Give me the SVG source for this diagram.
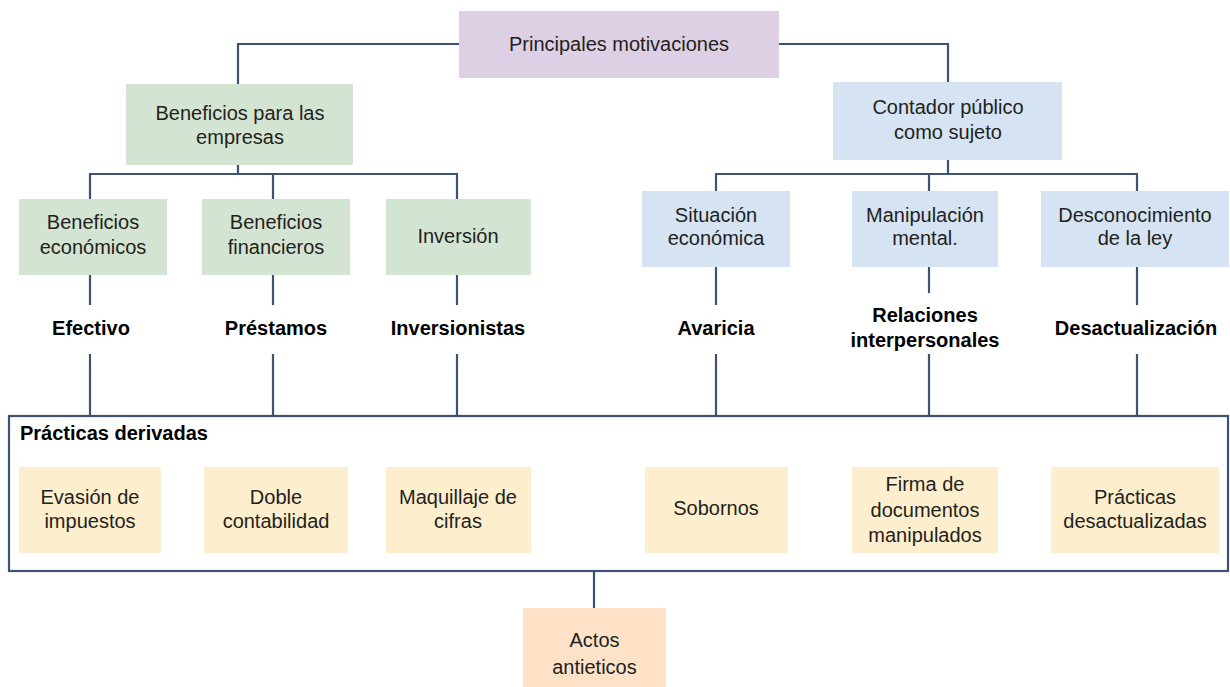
<svg xmlns="http://www.w3.org/2000/svg" width="1230" height="687" viewBox="0 0 1230 687">
<style>
.t{font-family:"Liberation Sans",Arial,sans-serif;font-size:20px;fill:#231f20;text-anchor:middle}
.b{font-family:"Liberation Sans",Arial,sans-serif;font-size:20px;font-weight:bold;fill:#000;text-anchor:middle}
.ln{fill:none;stroke:#3e5273;stroke-width:2.2}
.top{fill:#ddd0e4}.grn{fill:#d4e4d2}.blu{fill:#d5e3f3}.crm{fill:#fdeecd}.pch{fill:#fde2c8}
</style>
<rect width="1230" height="687" fill="#fff"/>
<g id="connectors">
<path class="ln" d="M459 44 H238 V84"/>
<path class="ln" d="M779 44 H948 V82"/>
<path class="ln" d="M238 165 V174 M90 199 V174 H457 V199 M273 174 V199"/>
<path class="ln" d="M948 160 V174 M716 191 V174 H1137 V191 M929 174 V191"/>
<path class="ln" d="M90 275 V305 M273 275 V305 M457 275 V305"/>
<path class="ln" d="M716 267 V305 M929 267 V293 M1137 267 V305"/>
<path class="ln" d="M90 354 V416 M273 354 V416 M457 354 V416 M716 354 V416 M929 354 V416 M1137 354 V416"/>
<path class="ln" d="M594 571 V608"/>
</g>
<g id="practicas-frame">
<rect class="ln" x="9" y="416" width="1219" height="155"/>
<text class="b" x="20" y="440" style="text-anchor:start">Prácticas derivadas</text>
</g>
<g id="principales"><rect class="top" x="459" y="11" width="320" height="67"/><text class="t" x="619" y="51">Principales motivaciones</text></g>
<g id="beneficios-empresas"><rect class="grn" x="126" y="84" width="227" height="81"/><text class="t" x="240" y="120">Beneficios para las</text><text class="t" x="240" y="144">empresas</text></g>
<g id="contador"><rect class="blu" x="833" y="82" width="229" height="78"/><text class="t" x="948" y="114">Contador público</text><text class="t" x="948" y="139">como sujeto</text></g>
<g id="ben-economicos"><rect class="grn" x="19" y="199" width="148" height="76"/><text class="t" x="93" y="229">Beneficios</text><text class="t" x="93" y="254">económicos</text></g>
<g id="ben-financieros"><rect class="grn" x="202" y="199" width="148" height="76"/><text class="t" x="276" y="229">Beneficios</text><text class="t" x="276" y="254">financieros</text></g>
<g id="inversion"><rect class="grn" x="386" y="199" width="145" height="76"/><text class="t" x="458" y="243">Inversión</text></g>
<g id="situacion"><rect class="blu" x="642" y="191" width="148" height="76"/><text class="t" x="716" y="222">Situación</text><text class="t" x="716" y="245">económica</text></g>
<g id="manipulacion"><rect class="blu" x="852" y="191" width="146" height="76"/><text class="t" x="925" y="222">Manipulación</text><text class="t" x="925" y="245">mental.</text></g>
<g id="desconocimiento"><rect class="blu" x="1041" y="191" width="188" height="76"/><text class="t" x="1135" y="222">Desconocimiento</text><text class="t" x="1135" y="245">de la ley</text></g>
<g id="efectivo"><text class="b" x="91" y="335">Efectivo</text></g>
<g id="prestamos"><text class="b" x="276" y="335">Préstamos</text></g>
<g id="inversionistas"><text class="b" x="458" y="335">Inversionistas</text></g>
<g id="avaricia"><text class="b" x="716" y="335">Avaricia</text></g>
<g id="relaciones"><text class="b" x="925" y="322">Relaciones</text><text class="b" x="925" y="347">interpersonales</text></g>
<g id="desactualizacion"><text class="b" x="1136" y="335">Desactualización</text></g>
<g id="evasion"><rect class="crm" x="19" y="467" width="142" height="86"/><text class="t" x="90" y="504">Evasión de</text><text class="t" x="90" y="528">impuestos</text></g>
<g id="doble"><rect class="crm" x="204" y="467" width="144" height="86"/><text class="t" x="276" y="504">Doble</text><text class="t" x="276" y="528">contabilidad</text></g>
<g id="maquillaje"><rect class="crm" x="386" y="467" width="145" height="86"/><text class="t" x="458" y="504">Maquillaje de</text><text class="t" x="458" y="528">cifras</text></g>
<g id="sobornos"><rect class="crm" x="645" y="467" width="143" height="86"/><text class="t" x="716" y="515">Sobornos</text></g>
<g id="firma"><rect class="crm" x="852" y="467" width="146" height="86"/><text class="t" x="925" y="491">Firma de</text><text class="t" x="925" y="517">documentos</text><text class="t" x="925" y="542">manipulados</text></g>
<g id="practicas-desact"><rect class="crm" x="1051" y="467" width="168" height="86"/><text class="t" x="1135" y="504">Prácticas</text><text class="t" x="1135" y="528">desactualizadas</text></g>
<g id="actos"><rect class="pch" x="523" y="608" width="143" height="79"/><text class="t" x="594.5" y="647">Actos</text><text class="t" x="594.5" y="674">antieticos</text></g>
</svg>
